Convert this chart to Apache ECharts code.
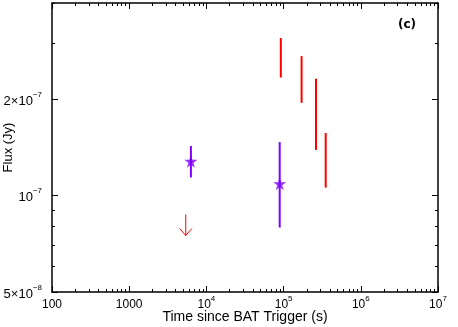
<!DOCTYPE html>
<html><head><meta charset="utf-8">
<script src="https://cdn.jsdelivr.net/npm/echarts@6/dist/echarts.min.js"></script>
<style>html,body{margin:0;padding:0;background:#fff}#c{width:458px;height:327px}</style>
</head><body><div id="c"></div>
<script>
// ---- data ----
const purpleX = [6300, 89000];
const purpleY = [1.28e-7, 1.09e-7];
const purpleLow = [1.14e-7, 7.95e-8];
const purpleHigh = [1.43e-7, 1.47e-7];
const redX = [92000, 171000, 263000, 351000];
const redLow = [2.34e-7, 1.95e-7, 1.39e-7, 1.06e-7];
const redHigh = [3.11e-7, 2.73e-7, 2.32e-7, 1.57e-7];
const limitX = [5400];
const limitY = [8.73e-8];
const xTickValues = [100, 1000, 1e4, 1e5, 1e6, 1e7];
const xTickLabels = [['100',''],['1000',''],['10','4'],['10','5'],['10','6'],['10','7']];
const xMinorValues = [];
[100,1000,1e4,1e5,1e6].forEach(d=>{for(let k=2;k<=9;k++) xMinorValues.push(d*k);});
const yTickValues = [5e-8, 1e-7, 2e-7];
const yTickLabels = [['5×10','−8'],['10','−7'],['2×10','−7']];
const yMinorValues = [6e-8, 7e-8, 8e-8, 9e-8, 3e-7, 4e-7];

const FONT = 'Liberation Sans';
function mkRich(size){
  return {
    b:{fontSize:size, fontFamily:FONT, color:'#000', lineHeight:size+4, verticalAlign:'bottom'},
    s:{fontSize:8, fontFamily:FONT, color:'#000', lineHeight:10, verticalAlign:'top'}
  };
}
function nearestIdx(vals, v){
  let best=0, bd=Infinity;
  vals.forEach((t,i)=>{
    const d1=Math.abs(Math.log10(t)-Math.log10(Math.abs(v)||1e-30));
    const d2=Math.abs(Math.log10(t)-v);
    const d=Math.min(isFinite(d1)?d1:Infinity, d2);
    if(d<bd){bd=d;best=i;}
  });
  return best;
}
function fmt(vals, labels){
  return function(v){
    const l = labels[nearestIdx(vals, v)];
    return l[1] ? '{b|'+l[0]+'}{s|'+l[1]+'}' : '{b|'+l[0]+'}';
  };
}
const grid = {left:52, right:20, top:3, bottom:35, containLabel:false, outerBoundsMode:'none'};
function xAx(gi, pos, ticks, len, showLine, label){
  return {type:'log', logBase:10, min:100, max:1e7, gridIndex:gi, position:pos,
    axisLine:{show:showLine, lineStyle:{color:'#000', width:1.5}},
    axisTick:{show:true, inside:true, length:len, customValues:ticks, lineStyle:{color:'#000', width:1}},
    axisLabel: label ? {show:true, customValues:ticks, formatter:fmt(xTickValues,xTickLabels), rich:mkRich(12), margin:3} : {show:false},
    splitLine:{show:false}, minorTick:{show:false}};
}
function yAx(gi, pos, ticks, len, showLine, label){
  return {type:'log', logBase:10, min:5e-8, max:4e-7, gridIndex:gi, position:pos,
    axisLine:{show:showLine, lineStyle:{color:'#000', width:1.5}},
    axisTick:{show:true, inside:true, length:len, customValues:ticks, lineStyle:{color:'#000', width:1}},
    axisLabel: label ? {show:true, customValues:ticks, formatter:fmt(yTickValues,yTickLabels), rich:mkRich(13), margin:10} : {show:false},
    splitLine:{show:false}, minorTick:{show:false}};
}
const xb = xAx(0,'bottom',xTickValues,6,true,true);
xb.name='Time since BAT Trigger (s)'; xb.nameLocation='middle'; xb.nameGap=18; xb.nameMoveOverlap=false;
xb.nameTextStyle={fontFamily:FONT, fontSize:14, color:'#000'};
const yl = yAx(0,'left',yTickValues,6,true,true);
yl.name='Flux (Jy)'; yl.nameLocation='middle'; yl.nameGap=37; yl.nameMoveOverlap=false;
yl.nameTextStyle={fontFamily:FONT, fontSize:13, color:'#000'};

const STAR='path://M50,0 L61.2,34.5 L97.6,34.5 L68.2,55.9 L79.4,90.5 L50,69.1 L20.6,90.5 L31.8,55.9 L2.4,34.5 L38.8,34.5 Z';
const purple='#7f00ff', red='#ff0000';

function errItem(color){
  return function(params, api){
    const x=api.value(0), lo=api.value(1), hi=api.value(2);
    const p1=api.coord([x,lo]), p2=api.coord([x,hi]);
    return {type:'line', shape:{x1:p1[0],y1:p1[1],x2:p2[0],y2:p2[1]}, style:{stroke:color, lineWidth:2}};
  };
}
const chart = echarts.init(document.getElementById('c'), null, {renderer:'canvas'});
chart.setOption({
  animation:false,
  backgroundColor:'#fff',
  grid:[grid, Object.assign({}, grid)],
  xAxis:[xb, xAx(0,'top',xTickValues,6,true,false), xAx(1,'bottom',xMinorValues,3,false,false), xAx(1,'top',xMinorValues,3,false,false)],
  yAxis:[yl, yAx(0,'right',yTickValues,6,true,false), yAx(1,'left',yMinorValues,3,false,false), yAx(1,'right',yMinorValues,3,false,false)],
  graphic:[{type:'text', left:398, top:19, style:{text:'(c)', font:'bold 12px "DejaVu Sans"', fill:'#000'}}],
  series:[
    {type:'custom', xAxisIndex:0, yAxisIndex:0, renderItem:errItem(red),
      data: redX.map((x,i)=>[x, redLow[i], redHigh[i]]), encode:{x:0,y:[1,2]}},
    {type:'custom', xAxisIndex:0, yAxisIndex:0, renderItem:errItem(purple),
      data: purpleX.map((x,i)=>[x, purpleLow[i], purpleHigh[i]]), encode:{x:0,y:[1,2]}},
    {type:'scatter', xAxisIndex:0, yAxisIndex:0, symbol:STAR, symbolSize:13,
      itemStyle:{color:purple}, data: purpleX.map((x,i)=>[x, purpleY[i]])},
    {type:'custom', xAxisIndex:0, yAxisIndex:0,
      renderItem:function(params, api){
        const p=api.coord([api.value(0), api.value(1)]);
        const L=21;
        return {type:'group', children:[
          {type:'line', shape:{x1:p[0],y1:p[1],x2:p[0],y2:p[1]+L}, style:{stroke:red, lineWidth:1}},
          {type:'polyline', shape:{points:[[p[0]-6,p[1]+L-7],[p[0],p[1]+L],[p[0]+6,p[1]+L-7]]}, style:{stroke:red, fill:null, lineWidth:1}}
        ]};
      },
      data: limitX.map((x,i)=>[x, limitY[i]]), encode:{x:0,y:1}}
  ]
});
</script></body></html>
